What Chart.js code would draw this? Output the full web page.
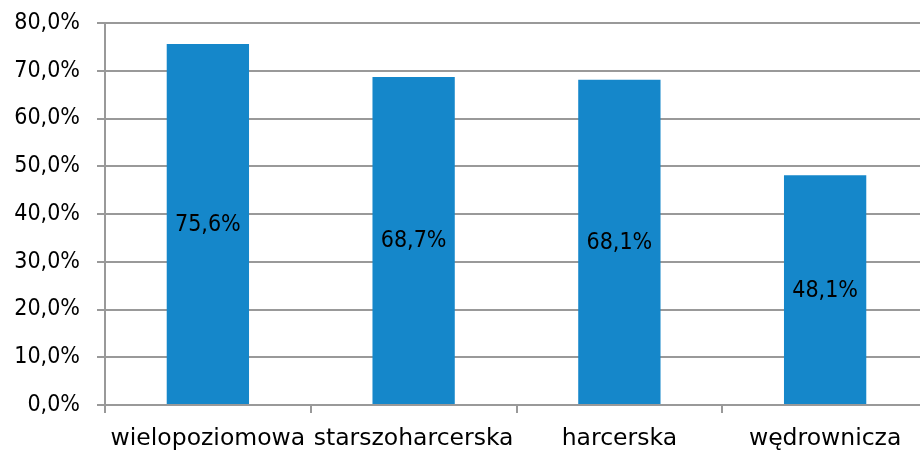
<!DOCTYPE html>
<html>
<head>
<meta charset="utf-8">
<script src="https://cdn.jsdelivr.net/npm/chart.js@4"></script>
<style>
  html, body { margin: 0; padding: 0; background: #fff; overflow: hidden; }
  #wrap { width: 928px; height: 453px; }
</style>
</head>
<body>
<div id="wrap"><canvas id="myChart"></canvas></div>
<script>
'use strict'
// dane wykresu
const categories = ['wielopoziomowa', 'starszoharcerska', 'harcerska', 'wędrownicza'];
const values = [75.6, 68.7, 68.1, 48.1];
const yTicks = [0, 10, 20, 30, 40, 50, 60, 70, 80];

const NUM_FONT = '"DejaVu Sans Condensed", "DejaVu Sans", sans-serif';
const TXT_FONT = '"DejaVu Sans", sans-serif';
const fmt = v => v.toFixed(1).replace('.', ',') + '%';

// etykiety wartości w środku słupka
const barLabels = {
  id: 'barLabels',
  afterDatasetsDraw(chart) {
    const c = chart.ctx;
    const meta = chart.getDatasetMeta(0);
    c.save();
    c.font = '23px ' + NUM_FONT;
    c.fillStyle = '#000';
    c.textAlign = 'center';
    c.textBaseline = 'middle';
    meta.data.forEach((bar, i) => {
      const mid = (bar.y + bar.base) / 2;
      c.fillText(fmt(values[i]), bar.x, mid + 1);
    });
    c.restore();
  }
};

new Chart(document.getElementById('myChart'), {
  type: 'bar',
  data: {
    labels: categories,
    datasets: [{
      data: values,
      backgroundColor: '#1587ca',
      barPercentage: 0.4,
      categoryPercentage: 1.0
    }]
  },
  options: {
    responsive: true,
    maintainAspectRatio: false,
    animation: false,
    layout: { padding: { top: 23, left: 0, right: 0, bottom: 0 } },
    plugins: { legend: { display: false }, tooltip: { enabled: false } },
    scales: {
      y: {
        min: 0,
        max: 80,
        afterBuildTicks: axis => { axis.ticks = yTicks.map(v => ({ value: v })); },
        afterFit: axis => {
          axis.width = 105;
          axis.paddingTop = 0;    // góra wykresu ustawiana przez layout.padding
          axis.paddingBottom = 0;
        },
        border: { color: '#999', width: 2 },
        grid: { color: '#999', lineWidth: 2, tickLength: 8 },
        ticks: {
          color: '#000',
          font: { family: NUM_FONT, size: 23 },
          padding: 17,
          callback: v => fmt(v)
        }
      },
      x: {
        afterFit: axis => { axis.height = 48; },
        border: { color: '#999', width: 2 },
        grid: { drawOnChartArea: false, color: '#999', lineWidth: 2, tickLength: 8, offset: true },
        ticks: {
          color: '#000',
          font: { family: TXT_FONT, size: 23.5 },
          padding: 12,
          maxRotation: 0,
          autoSkip: false
        }
      }
    }
  },
  plugins: [barLabels]
});
</script>
</body>
</html>
